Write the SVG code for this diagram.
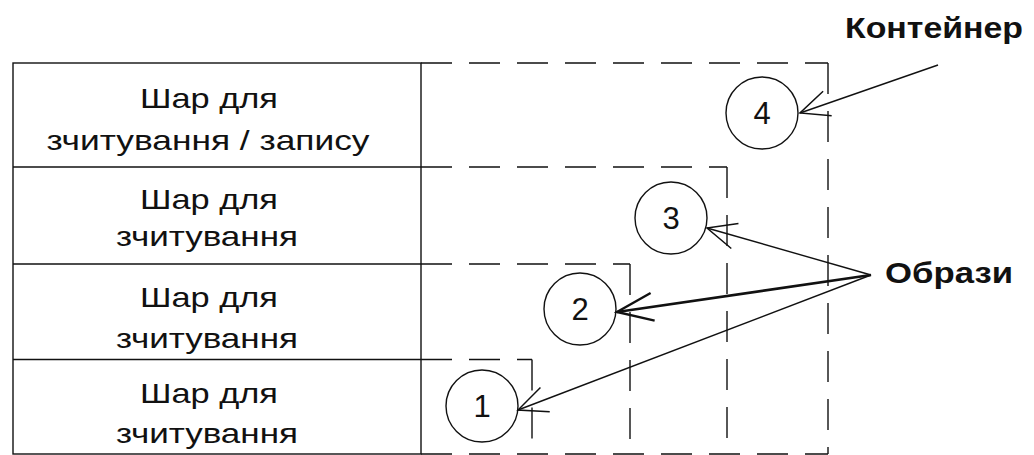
<svg xmlns="http://www.w3.org/2000/svg" width="1034" height="455" viewBox="0 0 1034 455">
  <style>
    .cell { fill: none; stroke: #111; stroke-width: 1.4; }
    .dash { fill: none; stroke: #111; stroke-width: 1.4; stroke-dasharray: 31 17; }
    .layer { font-family: "Liberation Sans", Arial, sans-serif; font-size: 28px; fill: #111; text-anchor: middle; }
    .num { font-family: "Liberation Sans", Arial, sans-serif; font-size: 31px; fill: #111; text-anchor: middle; }
    .label { font-family: "Liberation Sans", Arial, sans-serif; font-size: 30px; font-weight: bold; fill: #111; }
    .ring { fill: #fff; stroke: #111; stroke-width: 1.4; }
    .arrow { fill: none; stroke: #111; stroke-width: 1.4; marker-end: url(#open); }
    .arrow-bold { fill: none; stroke: #111; stroke-width: 2.6; marker-end: url(#open-bold); }
  </style>
  <defs>
    <marker id="open" markerUnits="userSpaceOnUse" orient="auto" refX="0" refY="0" markerWidth="40" markerHeight="40" overflow="visible">
      <path d="M -29 -13 L 0 0 L -29 13" fill="none" stroke="#111" stroke-width="1.5"/>
    </marker>
    <marker id="open-bold" markerUnits="userSpaceOnUse" orient="auto" refX="0" refY="0" markerWidth="40" markerHeight="40" overflow="visible">
      <path d="M -36 -14 L 0 0 L -36 14" fill="none" stroke="#111" stroke-width="2.4"/>
    </marker>
  </defs>

  <rect width="1034" height="455" fill="#fff"/>

  <!-- table of layers -->
  <g id="layers">
    <rect class="cell" x="13" y="63" width="408" height="391"/>
    <line class="cell" x1="13" y1="167" x2="421" y2="167"/>
    <line class="cell" x1="13" y1="264" x2="421" y2="264"/>
    <line class="cell" x1="13" y1="359.5" x2="421" y2="359.5"/>
  </g>

  <g id="layer-rw">
    <text class="layer" x="209" y="108" textLength="138" lengthAdjust="spacingAndGlyphs">Шар для</text>
    <text class="layer" x="208" y="150" textLength="323" lengthAdjust="spacingAndGlyphs">зчитування / запису</text>
  </g>
  <g id="layer-r3">
    <text class="layer" x="209" y="209" textLength="138" lengthAdjust="spacingAndGlyphs">Шар для</text>
    <text class="layer" x="207" y="246" textLength="182" lengthAdjust="spacingAndGlyphs">зчитування</text>
  </g>
  <g id="layer-r2">
    <text class="layer" x="209" y="307" textLength="138" lengthAdjust="spacingAndGlyphs">Шар для</text>
    <text class="layer" x="207" y="348" textLength="182" lengthAdjust="spacingAndGlyphs">зчитування</text>
  </g>
  <g id="layer-r1">
    <text class="layer" x="209" y="403" textLength="138" lengthAdjust="spacingAndGlyphs">Шар для</text>
    <text class="layer" x="207" y="443" textLength="182" lengthAdjust="spacingAndGlyphs">зчитування</text>
  </g>

  <!-- dashed image frames, outermost is the container -->
  <g id="frame-4">
    <path class="dash" d="M 421 63 H 828"/>
    <path class="dash" d="M 828 63 V 454"/>
    <path class="dash" d="M 421 454 H 828"/>
  </g>
  <g id="frame-3">
    <path class="dash" d="M 421 167 H 727"/>
    <path class="dash" d="M 727 167 V 440"/>
  </g>
  <g id="frame-2">
    <path class="dash" d="M 421 264 H 630"/>
    <path class="dash" d="M 630 264 V 440"/>
  </g>
  <g id="frame-1">
    <path class="dash" d="M 421 359.5 H 532"/>
    <path class="dash" d="M 532 359.5 V 440"/>
  </g>

  <!-- numbered images -->
  <g id="image-4">
    <circle class="ring" cx="762" cy="113" r="36"/>
    <text class="num" x="762" y="124">4</text>
  </g>
  <g id="image-3">
    <circle class="ring" cx="671" cy="218" r="36"/>
    <text class="num" x="671" y="229">3</text>
  </g>
  <g id="image-2">
    <circle class="ring" cx="580" cy="309" r="36"/>
    <text class="num" x="580" y="320">2</text>
  </g>
  <g id="image-1">
    <circle class="ring" cx="482" cy="406" r="36"/>
    <text class="num" x="482" y="417">1</text>
  </g>

  <!-- captions -->
  <g id="label-container">
    <text class="label" x="845" y="38" textLength="178" lengthAdjust="spacingAndGlyphs">Контейнер</text>
  </g>
  <g id="label-images">
    <text class="label" x="885" y="283" textLength="128" lengthAdjust="spacingAndGlyphs">Образи</text>
  </g>

  <!-- pointer arrows -->
  <g id="connectors">
    <path class="arrow" d="M 938 65 L 800 113"/>
    <path class="arrow" d="M 871 275 L 707 228"/>
    <path class="arrow-bold" d="M 871 275 L 617 312"/>
    <path class="arrow" d="M 871 275 L 518 410"/>
  </g>
</svg>
